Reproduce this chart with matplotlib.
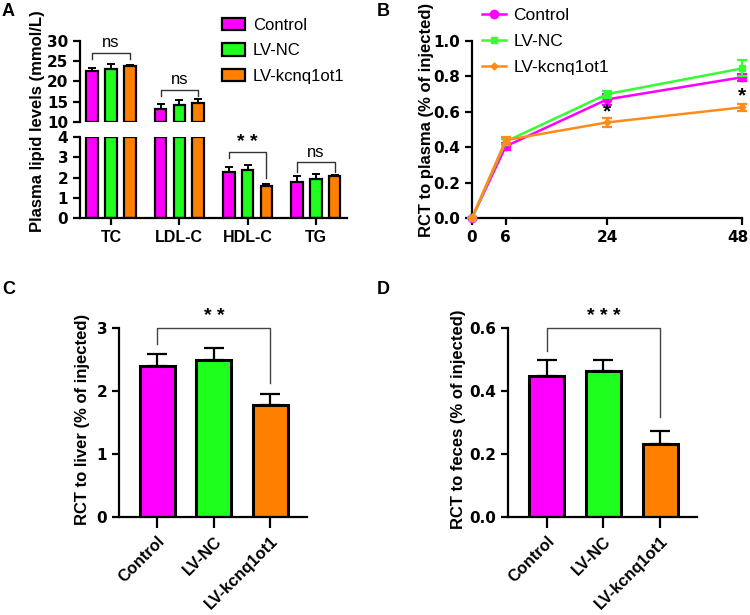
import numpy as np
import matplotlib
matplotlib.use("Agg")
import matplotlib.pyplot as plt
import matplotlib.transforms as mtransforms
from matplotlib.patches import Patch
from matplotlib.lines import Line2D

plt.rcParams['font.family'] = ['Liberation Sans', 'DejaVu Sans']

# ---------------- data ----------------
groups = ["Control", "LV-NC", "LV-kcnq1ot1"]
colors = ["#FF00FF", "#1EFF1E", "#FF8000"]
line_colors = ["#FF00FF", "#33FF33", "#FF8C1A"]

lipid_cats = ["TC", "LDL-C", "HDL-C", "TG"]
lipid_mean = {
    "Control":     [22.5, 13.2, 2.25, 1.80],
    "LV-NC":       [23.1, 14.2, 2.37, 1.95],
    "LV-kcnq1ot1": [23.7, 14.6, 1.58, 2.05],
}
lipid_err = {
    "Control":     [0.8, 1.3, 0.25, 0.25],
    "LV-NC":       [1.2, 1.3, 0.25, 0.20],
    "LV-kcnq1ot1": [0.3, 1.0, 0.10, 0.07],
}
lipid_sig = ["ns", "ns", "* *", "ns"]

time_h = [0, 6, 24, 48]
plasma_mean = {
    "Control":     [0.0, 0.405, 0.670, 0.795],
    "LV-NC":       [0.0, 0.432, 0.700, 0.845],
    "LV-kcnq1ot1": [0.0, 0.440, 0.540, 0.625],
}
plasma_err = {
    "Control":     [0.0, 0.020, 0.030, 0.020],
    "LV-NC":       [0.0, 0.015, 0.020, 0.045],
    "LV-kcnq1ot1": [0.0, 0.020, 0.025, 0.018],
}
plasma_star_t = [24, 48]
plasma_star_y = [0.60, 0.69]

liver_mean = [2.40, 2.50, 1.77]
liver_err = [0.18, 0.18, 0.19]
feces_mean = [0.448, 0.463, 0.233]
feces_err = [0.050, 0.037, 0.039]

W, H = 750, 615
fig = plt.figure(figsize=(7.5, 6.15), dpi=100)


def ax_px(l, r, t, b):
    return fig.add_axes([l / W, 1 - b / H, (r - l) / W, (b - t) / H])


TICK_FS = 11
NUM_FONT = ['DejaVu Sans']
LAB_FS = 12
EC = "black"


def style(ax):
    for s in ["top", "right"]:
        ax.spines[s].set_visible(False)
    for s in ["left", "bottom"]:
        ax.spines[s].set_linewidth(1.6)
    ax.tick_params(width=1.6, length=5, labelsize=TICK_FS)
    for lbl in ax.get_yticklabels():
        lbl.set_fontweight("bold")
        lbl.set_family(NUM_FONT)


# ---------------- Panel A (broken axis) ----------------
axA_top = ax_px(80, 347, 40.7, 122)
axA_bot = ax_px(80, 347, 137, 218)
xA = np.arange(len(lipid_cats))
off = 0.274
bw = 0.17
for i, g in enumerate(groups):
    xs = xA + (i - 1) * off
    m = np.array(lipid_mean[g])
    e = np.array(lipid_err[g])
    hi = m > 10
    axA_top.errorbar(xs[hi], m[hi], yerr=[np.zeros(hi.sum()), e[hi]], fmt="none",
                     ecolor=EC, elinewidth=1.4, capsize=3, capthick=1.4, zorder=1)
    axA_top.bar(xs[hi], m[hi] - 10, bottom=10, width=bw, color=colors[i],
                edgecolor=EC, linewidth=1.6, zorder=2)
    lo = ~hi
    axA_bot.errorbar(xs[lo], m[lo], yerr=[np.zeros(lo.sum()), e[lo]], fmt="none",
                     ecolor=EC, elinewidth=1.4, capsize=3, capthick=1.4, zorder=1)
    axA_bot.bar(xs, np.minimum(m, 4), width=bw, color=colors[i], edgecolor=EC,
                linewidth=1.6, zorder=2)

for ax in (axA_top, axA_bot):
    ax.set_xlim(-0.454, 3.455)
axA_top.set_ylim(10, 30)
axA_top.set_yticks([10, 15, 20, 25, 30])
axA_bot.set_ylim(0, 4)
axA_bot.set_yticks([0, 1, 2, 3, 4])
style(axA_top)
style(axA_bot)
axA_bot.set_xticks(xA)
axA_bot.set_xticklabels(lipid_cats, fontsize=11.5, fontweight="bold")
axA_top.spines["bottom"].set_visible(False)
axA_top.set_xticks([])

brA = [  # (axis, top, leftleg, rightleg, text_y)
    (axA_top, 27.0, 25.4, 25.4, 27.6),
    (axA_top, 17.9, 16.5, 16.5, 18.5),
    (axA_bot, 3.24, 2.95, 1.96, 3.32),
    (axA_bot, 2.75, 2.29, 2.29, 2.85),
]
for k, (ax, ytop, yl, yr, ty) in enumerate(brA):
    x0 = xA[k] - off
    x1 = xA[k] + off
    ax.plot([x0, x0, x1, x1], [yl, ytop, ytop, yr], color="#333333", lw=1.0,
            clip_on=False, zorder=3)
    txt = lipid_sig[k]
    ax.text(xA[k], ty, txt, ha="center", va="bottom",
            fontsize=12 if txt == "ns" else 14,
            fontweight="normal" if txt == "ns" else "bold", clip_on=False)

fig.text(38 / W, 1 - 121 / H, "Plasma lipid levels (mmol/L)", rotation=90,
         ha="center", va="center", fontsize=LAB_FS, fontweight="bold")

leg_handles = [Patch(facecolor=colors[i], edgecolor=EC, linewidth=1.6, label=g)
               for i, g in enumerate(groups)]
fig.legend(handles=leg_handles, loc="upper left",
           bbox_to_anchor=(222 / W, 1 - 18 / H), frameon=False, fontsize=12,
           handlelength=1.4, handleheight=0.75, labelspacing=0.62, handletextpad=0.45,
           borderaxespad=0, borderpad=0)

# ---------------- Panel B ----------------
axB = ax_px(472, 742, 41, 218)
markers = ["o", "s", "D"]
msizes = [6, 5, 3.5]
order = [1, 2, 0]
for i in order:
    g = groups[i]
    m = np.array(plasma_mean[g])
    e = np.array(plasma_err[g])
    axB.errorbar(time_h, m, yerr=e, color=line_colors[i], marker=markers[i],
                 ms=msizes[i], lw=1.8, elinewidth=1.6, capsize=3.5, capthick=1.6,
                 clip_on=False, zorder=3 + i)
for t, y in zip(plasma_star_t, plasma_star_y):
    axB.text(t, y, "*", ha="center", va="center", fontsize=15, fontweight="bold")
axB.set_xlim(0, 48)
axB.set_ylim(0, 1.0)
axB.set_xticks(time_h)
axB.set_yticks([0.0, 0.2, 0.4, 0.6, 0.8, 1.0])
axB.set_yticklabels(["0.0", "0.2", "0.4", "0.6", "0.8", "1.0"])
style(axB)
xlbls = axB.get_xticklabels()
for lbl in xlbls:
    lbl.set_fontweight("bold")
    lbl.set_family(NUM_FONT)
# nudge the last label ("48") so it stays inside the canvas
last = xlbls[-1]
last.set_transform(last.get_transform() +
                   mtransforms.ScaledTranslation(-4 / 100, 0, fig.dpi_scale_trans))
fig.text(427 / W, 1 - 120 / H, "RCT to plasma (% of injected)", rotation=90,
         ha="center", va="center", fontsize=LAB_FS, fontweight="bold")
legB_handles = [Line2D([0], [0], color=line_colors[i], marker=markers[i],
                       ms=msizes[i], lw=1.8, label=g) for i, g in enumerate(groups)]
fig.legend(handles=legB_handles, loc="upper left",
           bbox_to_anchor=(482 / W, 1 - 8 / H), frameon=False, fontsize=12.5,
           handlelength=1.4, labelspacing=0.62, handletextpad=0.4,
           borderaxespad=0, borderpad=0)


# ---------------- Panels C & D ----------------
def bar_panel(ax, mean, err, ylim, yticks, yticklabels, br_legs, sig, label, label_x):
    x = np.arange(len(groups))
    ax.errorbar(x, mean, yerr=[np.zeros(len(err)), err], fmt="none", ecolor=EC,
                elinewidth=1.6, capsize=7, capthick=1.6, zorder=1)
    ax.bar(x, mean, width=0.62, color=colors, edgecolor=EC, linewidth=2.2, zorder=2)
    ax.set_xlim(-0.68, 2.65)
    ax.set_ylim(*ylim)
    ax.set_yticks(yticks)
    ax.set_yticklabels(yticklabels)
    style(ax)
    ax.set_xticks(x)
    ax.set_xticklabels(groups, rotation=45, ha="right", rotation_mode="anchor",
                       fontsize=11.8, fontweight="bold")
    ax.tick_params(axis="x", length=8, pad=4)
    ytop = ylim[1]
    ax.plot([0, 0, 2, 2], [br_legs[0], ytop, ytop, br_legs[1]], color="#444444",
            lw=1.0, clip_on=False, zorder=3)
    ax.text(1, ytop + (ylim[1] - ylim[0]) * 0.015, sig, ha="center", va="bottom",
            fontsize=14, fontweight="bold", clip_on=False)
    fig.text(label_x / W, 1 - 419 / H, label, rotation=90, ha="center",
             va="center", fontsize=LAB_FS, fontweight="bold")


axC = ax_px(119, 307, 328, 517)
bar_panel(axC, liver_mean, liver_err, (0, 3), [0, 1, 2, 3], ["0", "1", "2", "3"],
          (2.75, 2.12), "* *", "RCT to liver (% of injected)", 82)
axD = ax_px(508, 697, 328, 517)
bar_panel(axD, feces_mean, feces_err, (0, 0.6), [0.0, 0.2, 0.4, 0.6],
          ["0.0", "0.2", "0.4", "0.6"], (0.526, 0.317), "* * *",
          "RCT to feces (% of injected)", 458)

for txt, x, y in [("A", 2, 3), ("B", 377, 3), ("C", 2, 281), ("D", 377, 281)]:
    fig.text(x / W, 1 - y / H, txt, ha="left", va="top", fontsize=13,
             fontweight="bold")

fig.savefig("out.png", dpi=100)
